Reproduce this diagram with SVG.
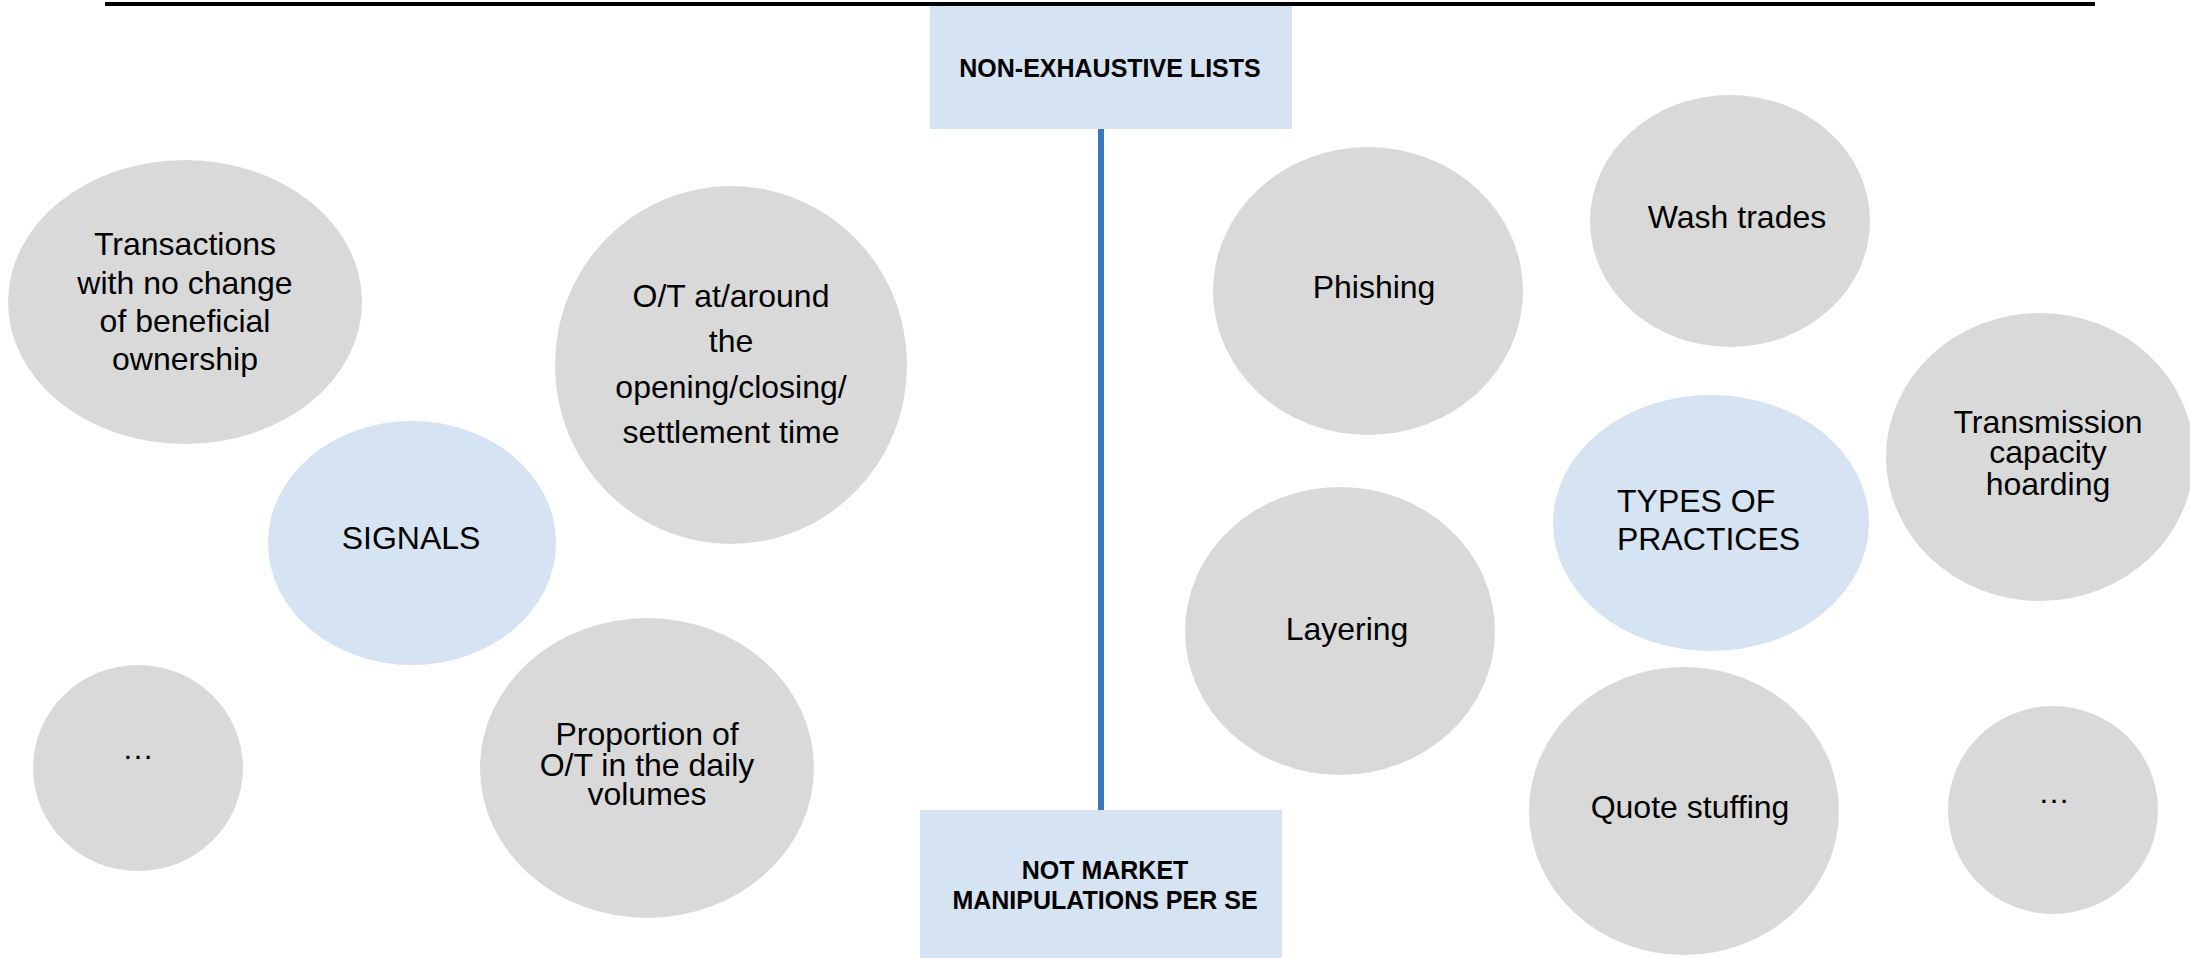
<svg xmlns="http://www.w3.org/2000/svg" width="2190" height="958" viewBox="0 0 2190 958">
<style>
.g{fill:#D9D9D9}
.b{fill:#D5E3F2}
.t{font-family:"Liberation Sans",Arial,sans-serif;font-size:32px;fill:#000;text-anchor:middle}
.h{font-family:"Liberation Sans",Arial,sans-serif;font-size:25px;font-weight:bold;fill:#000;text-anchor:middle}
</style>
<rect width="2190" height="958" fill="#fff"/>
<line x1="105" y1="4" x2="2095" y2="4" stroke="#000" stroke-width="4"/>
<g id="connectors">
<line x1="1101" y1="129" x2="1101" y2="810" stroke="#3A78C2" stroke-width="6"/>
</g>
<g id="non-exhaustive">
<rect class="b" x="930" y="6" width="362" height="123"/>
<text class="h" x="1110" y="77">NON-EXHAUSTIVE LISTS</text>
</g>
<g id="not-market">
<rect class="b" x="920" y="810" width="362" height="150"/>
<text class="h" x="1105" y="879">NOT MARKET</text>
<text class="h" x="1105" y="909">MANIPULATIONS PER SE</text>
</g>
<g id="transactions">
<ellipse class="g" cx="185" cy="302" rx="177" ry="142"/>
<text class="t" x="185" y="255">Transactions</text>
<text class="t" x="185" y="294">with no change</text>
<text class="t" x="185" y="332">of beneficial</text>
<text class="t" x="185" y="370">ownership</text>
</g>
<g id="ot-opening">
<ellipse class="g" cx="731" cy="365" rx="176" ry="179"/>
<text class="t" x="731" y="307">O/T at/around</text>
<text class="t" x="731" y="352">the</text>
<text class="t" x="731" y="398">opening/closing/</text>
<text class="t" x="731" y="443">settlement time</text>
</g>
<g id="signals">
<ellipse class="b" cx="412" cy="543" rx="144" ry="122"/>
<text class="t" x="411" y="549">SIGNALS</text>
</g>
<g id="signals-more">
<ellipse class="g" cx="138" cy="768" rx="105" ry="103"/>
<text class="t" x="138" y="759">…</text>
</g>
<g id="proportion">
<ellipse class="g" cx="647" cy="768" rx="167" ry="150"/>
<text class="t" x="647" y="745">Proportion of</text>
<text class="t" x="647" y="776">O/T in the daily</text>
<text class="t" x="647" y="805">volumes</text>
</g>
<g id="phishing">
<ellipse class="g" cx="1368" cy="291" rx="155" ry="144"/>
<text class="t" x="1374" y="298">Phishing</text>
</g>
<g id="wash-trades">
<ellipse class="g" cx="1730" cy="221" rx="140" ry="126"/>
<text class="t" x="1737" y="228">Wash trades</text>
</g>
<g id="transmission">
<ellipse class="g" cx="2040" cy="457" rx="154" ry="144"/>
<text class="t" x="2048" y="433">Transmission</text>
<text class="t" x="2048" y="463">capacity</text>
<text class="t" x="2048" y="495">hoarding</text>
</g>
<g id="types">
<ellipse class="b" cx="1711" cy="523" rx="158" ry="128"/>
<text class="t" x="1617" y="512" style="text-anchor:start">TYPES OF</text>
<text class="t" x="1617" y="550" style="text-anchor:start">PRACTICES</text>
</g>
<g id="layering">
<ellipse class="g" cx="1340" cy="631" rx="155" ry="144"/>
<text class="t" x="1347" y="640">Layering</text>
</g>
<g id="quote-stuffing">
<ellipse class="g" cx="1684" cy="811" rx="155" ry="144"/>
<text class="t" x="1690" y="818">Quote stuffing</text>
</g>
<g id="types-more">
<ellipse class="g" cx="2053" cy="810" rx="105" ry="104"/>
<text class="t" x="2054" y="803">…</text>
</g>
</svg>
